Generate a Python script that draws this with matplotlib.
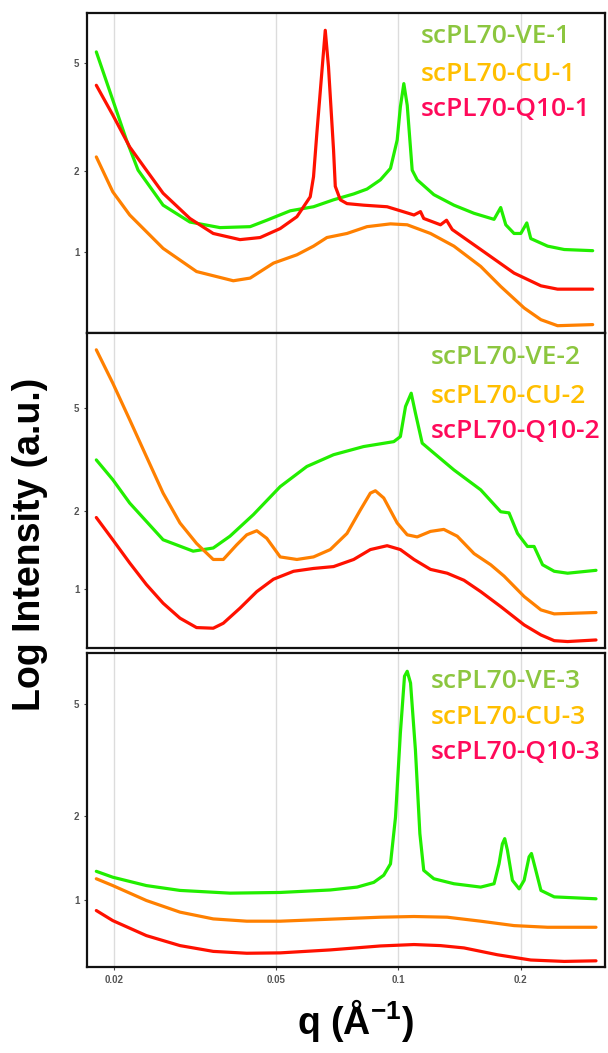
import matplotlib
matplotlib.use('Agg')
import matplotlib.pyplot as plt
from matplotlib.ticker import FixedLocator, NullLocator, FixedFormatter

plt.rcParams['font.family'] = ['Liberation Sans', 'DejaVu Sans']
plt.rcParams['mathtext.fontset'] = 'custom'
plt.rcParams['mathtext.rm'] = 'Liberation Sans'
plt.rcParams['mathtext.bf'] = 'Liberation Sans:bold'

# ---- data (q in 1/A, intensity a.u.) ----
q_ve1 = [0.01813, 0.0199, 0.0215, 0.02296, 0.02645, 0.03078, 0.0365, 0.04327, 0.04754, 0.05428,
         0.06193, 0.06935, 0.07772, 0.0838, 0.0904, 0.0957, 0.0994, 0.1012, 0.1032, 0.1052,
         0.1082, 0.1113, 0.1223, 0.137, 0.1535, 0.1719, 0.1785, 0.1837, 0.1925, 0.2,
         0.2069, 0.2116, 0.2327, 0.2557, 0.3003]
i_ve1 = [5.52, 3.66, 2.60, 2.01, 1.49, 1.29, 1.23, 1.24, 1.31, 1.42,
         1.47, 1.56, 1.64, 1.71, 1.85, 2.04, 2.6, 3.45, 4.21, 3.5,
         2.01, 1.85, 1.63, 1.49, 1.39, 1.32, 1.46, 1.26, 1.17, 1.17,
         1.28, 1.12, 1.05, 1.02, 1.01]
q_cu1 = [0.01813, 0.0199, 0.0219, 0.02645, 0.03196, 0.03934, 0.04327, 0.04937, 0.05637, 0.06193,
         0.0668, 0.07483, 0.0838, 0.0957, 0.1052, 0.12, 0.137, 0.1594, 0.1785, 0.2038,
         0.2241, 0.2462, 0.3003]
i_cu1 = [2.25, 1.67, 1.37, 1.03, 0.845, 0.781, 0.799, 0.908, 0.975, 1.05,
         1.13, 1.17, 1.24, 1.27, 1.26, 1.17, 1.05, 0.883, 0.744, 0.619,
         0.56, 0.532, 0.537]
q_q101 = [0.01813, 0.0199, 0.0219, 0.02406, 0.02645, 0.03078, 0.03512, 0.04086, 0.04579, 0.05129,
          0.05637, 0.06078, 0.06193, 0.0631, 0.06457, 0.06618, 0.0674, 0.06935, 0.07004, 0.07206,
          0.07483, 0.0822, 0.0939, 0.1012, 0.1093, 0.1134, 0.1155, 0.127, 0.1314, 0.1357,
          0.1594, 0.1925, 0.2241, 0.2462, 0.3003]
i_q101 = [4.15, 3.22, 2.45, 2.01, 1.65, 1.33, 1.17, 1.11, 1.13, 1.22,
          1.35, 1.60, 1.90, 2.75, 4.21, 6.64, 4.86, 2.39, 1.75, 1.56,
          1.51, 1.49, 1.47, 1.42, 1.37, 1.41, 1.33, 1.26, 1.31, 1.21,
          1.02, 0.834, 0.748, 0.727, 0.727]

q_ve2 = [0.01813, 0.0199, 0.0219, 0.02645, 0.03135, 0.03512, 0.03861, 0.04408, 0.05129, 0.05963,
         0.06935, 0.0822, 0.0975, 0.1012, 0.1042, 0.1076, 0.1102, 0.1145, 0.1223, 0.137,
         0.1594, 0.1785, 0.1871, 0.1963, 0.2076, 0.2156, 0.2262, 0.2416, 0.2606, 0.306]
i_ve2 = [3.16, 2.65, 2.15, 1.55, 1.40, 1.44, 1.60, 1.94, 2.49, 2.98,
         3.31, 3.56, 3.72, 3.89, 5.09, 5.73, 4.80, 3.67, 3.36, 2.89,
         2.42, 1.99, 1.97, 1.64, 1.46, 1.46, 1.24, 1.17, 1.15, 1.18]
q_cu2 = [0.01813, 0.0199, 0.0219, 0.02406, 0.02645, 0.0291, 0.03196, 0.03512, 0.03718, 0.04008,
         0.04245, 0.04493, 0.04754, 0.05129, 0.05637, 0.06193, 0.06808, 0.07483, 0.08068, 0.08541,
         0.08787, 0.09212, 0.0994, 0.1052, 0.1113, 0.12, 0.1294, 0.1396, 0.1535, 0.1687,
         0.182, 0.2038, 0.2241, 0.2416, 0.306]
i_cu2 = [8.44, 6.27, 4.52, 3.26, 2.35, 1.80, 1.50, 1.30, 1.30, 1.48,
         1.62, 1.68, 1.57, 1.33, 1.30, 1.33, 1.42, 1.64, 2.02, 2.35,
         2.40, 2.25, 1.80, 1.62, 1.59, 1.67, 1.70, 1.60, 1.37, 1.24,
         1.12, 0.934, 0.829, 0.80, 0.81]
q_q102 = [0.01813, 0.0199, 0.0219, 0.02406, 0.02645, 0.0291, 0.03196, 0.03512, 0.03718, 0.04086,
          0.04493, 0.04937, 0.05531, 0.06193, 0.06935, 0.07772, 0.08541, 0.0939, 0.1012, 0.1093,
          0.12, 0.1319, 0.145, 0.1594, 0.1785, 0.2038, 0.2241, 0.2416, 0.2606, 0.306]
i_q102 = [1.89, 1.55, 1.26, 1.04, 0.88, 0.77, 0.708, 0.704, 0.736, 0.842,
          0.976, 1.09, 1.17, 1.20, 1.22, 1.30, 1.42, 1.47, 1.42, 1.30,
          1.19, 1.15, 1.08, 0.976, 0.854, 0.725, 0.663, 0.63, 0.625, 0.634]

q_ve3 = [0.01813, 0.0199, 0.02406, 0.0291, 0.03861, 0.05129, 0.06808, 0.07926, 0.08706, 0.09212,
         0.0957, 0.09846, 0.1012, 0.1036, 0.1052, 0.1072, 0.1102, 0.113, 0.1155, 0.1223,
         0.137, 0.1594, 0.1719, 0.1768, 0.1802, 0.1826, 0.1854, 0.1907, 0.1981, 0.2038,
         0.2096, 0.2124, 0.2177, 0.2241, 0.2416, 0.306]
i_ve3 = [1.27, 1.21, 1.13, 1.086, 1.062, 1.068, 1.09, 1.116, 1.16, 1.23,
         1.35, 1.98, 3.94, 6.28, 6.54, 5.94, 3.43, 1.73, 1.28, 1.195,
         1.147, 1.116, 1.147, 1.35, 1.59, 1.66, 1.51, 1.18, 1.10, 1.18,
         1.43, 1.47, 1.28, 1.086, 1.03, 1.014]
q_cu3 = [0.01813, 0.0199, 0.02406, 0.0291, 0.03512, 0.04245, 0.05129, 0.06808, 0.0904, 0.1093,
         0.1319, 0.1594, 0.1925, 0.2327, 0.306]
i_cu3 = [1.195, 1.13, 1.0, 0.909, 0.86, 0.844, 0.844, 0.858, 0.872, 0.877,
         0.872, 0.844, 0.814, 0.803, 0.803]
q_q103 = [0.01813, 0.0199, 0.02406, 0.0291, 0.03512, 0.04245, 0.05129, 0.06808, 0.0904, 0.1093,
          0.127, 0.145, 0.1752, 0.2116, 0.2557, 0.306]
i_q103 = [0.921, 0.848, 0.75, 0.691, 0.659, 0.649, 0.651, 0.667, 0.689, 0.697,
          0.691, 0.678, 0.641, 0.614, 0.607, 0.61]

x_ticks = [0.02, 0.05, 0.1, 0.2]
x_tick_labels = ['0.02', '0.05', '0.1', '0.2']
y_ticks = [1, 2, 5]
y_tick_labels = ['1', '2', '5']

panels = [
    dict(series=[(q_ve1, i_ve1), (q_cu1, i_cu1), (q_q101, i_q101)],
         names=['scPL70-VE-1', 'scPL70-CU-1', 'scPL70-Q10-1'],
         ylim=(0.50, 7.7), rect=[0.1431, 0.6838, 0.852, 0.3039],
         tx=0.645, ty=[0.925, 0.809, 0.697]),
    dict(series=[(q_ve2, i_ve2), (q_cu2, i_cu2), (q_q102, i_q102)],
         names=['scPL70-VE-2', 'scPL70-CU-2', 'scPL70-Q10-2'],
         ylim=(0.59, 9.8), rect=[0.1431, 0.3846, 0.852, 0.2991],
         tx=0.664, ty=[0.921, 0.797, 0.686]),
    dict(series=[(q_ve3, i_ve3), (q_cu3, i_cu3), (q_q103, i_q103)],
         names=['scPL70-VE-3', 'scPL70-CU-3', 'scPL70-Q10-3'],
         ylim=(0.58, 7.6), rect=[0.1431, 0.0817, 0.852, 0.2982],
         tx=0.664, ty=[0.908, 0.796, 0.682]),
]

line_colors = ['#22ee00', '#ff8000', '#ff1100']
text_colors = ['#8cc63f', '#ffbf00', '#ff0a5a']

fig = plt.figure(figsize=(6.08, 10.53), dpi=100)

for k, p in enumerate(panels):
    ax = fig.add_axes(p['rect'])
    ax.set_xscale('log')
    ax.set_yscale('log')
    for xv in x_ticks:
        ax.axvline(xv, color='#dcdcdc', lw=1.0, zorder=0)
    for (qq, ii), c in zip(p['series'], line_colors):
        ax.plot(qq, ii, color=c, lw=2.3, solid_joinstyle='round', solid_capstyle='round')
    for name, c, yy in zip(p['names'], text_colors, p['ty']):
        ax.text(p['tx'], yy, name, transform=ax.transAxes, color=c, fontsize=19,
                fontfamily=['Open Sans', 'DejaVu Sans'], fontweight='semibold',
                ha='left', va='center')
    ax.set_xlim(0.0172, 0.322)
    ax.set_ylim(*p['ylim'])
    ax.xaxis.set_major_locator(FixedLocator(x_ticks))
    ax.xaxis.set_minor_locator(NullLocator())
    ax.yaxis.set_major_locator(FixedLocator(y_ticks))
    ax.yaxis.set_major_formatter(FixedFormatter(y_tick_labels))
    ax.yaxis.set_minor_locator(NullLocator())
    if k == 2:
        ax.xaxis.set_major_formatter(FixedFormatter(x_tick_labels))
    else:
        ax.set_xticklabels([])
    ax.tick_params(axis='both', length=2.5, width=0.8, color='#444444',
                   labelsize=7, labelcolor='#555555', pad=3)
    for lab in ax.get_xticklabels() + ax.get_yticklabels():
        lab.set_fontweight('bold')
    for s in ax.spines.values():
        s.set_linewidth(1.6)
        s.set_color('#111111')

fig.text(0.049, 0.483, 'Log Intensity (a.u.)', rotation=90, ha='center', va='center',
         fontsize=27, fontweight='bold')
fig.text(0.584, 0.031, r'q (Å$^{\mathbf{-1}}$)', ha='center', va='center',
         fontsize=27, fontweight='bold')

fig.savefig('out.png', dpi=100)
